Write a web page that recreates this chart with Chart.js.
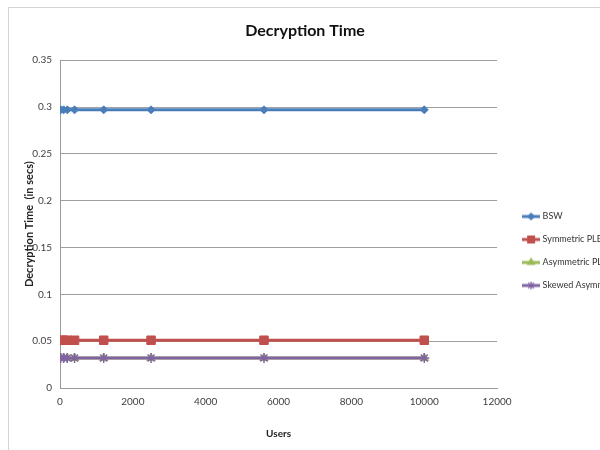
<!DOCTYPE html>
<html>
<head>
<meta charset="utf-8">
<script src="https://cdn.jsdelivr.net/npm/chart.js@4.4.1/dist/chart.umd.min.js"></script>
<style>
  html, body { margin: 0; padding: 0; background: #fff; overflow: hidden; }
  #wrap { position: relative; width: 600px; height: 450px; overflow: hidden; }
  #frame { position: absolute; left: 8px; top: 7px; width: 700px; height: 500px;
           border-left: 1px solid #d4d4d4; border-top: 1px solid #d4d4d4; }
  #chart { position: absolute; left: 0; top: 0; }
</style>
</head>
<body>
<div id="wrap">
  <div id="frame"></div>
  <canvas id="chart" width="610" height="450"></canvas>
</div>
<script>
document.addEventListener('DOMContentLoaded', () => {
  const users = [20, 100, 200, 400, 1200, 2500, 5600, 10000];
  const bswTimes = [0.297, 0.297, 0.297, 0.297, 0.297, 0.297, 0.297, 0.297];
  const symPlbeTimes = [0.051, 0.051, 0.051, 0.051, 0.051, 0.051, 0.051, 0.051];
  const asymPlbeTimes = [0.032, 0.032, 0.032, 0.032, 0.032, 0.032, 0.032, 0.032];
  const skewedTimes = [0.032, 0.032, 0.032, 0.032, 0.032, 0.032, 0.032, 0.032];

  const seriesNames = ['BSW', 'Symmetric PLBE', 'Asymmetric PLBE', 'Skewed Asymm.'];
  const seriesColors = ['#4a7ebb', '#c0504d', '#9bbb59', '#8064a2'];
  const fontFamily = 'Lato, "Liberation Sans", sans-serif';

  const toPoints = values => values.map((v, i) => ({ x: users[i], y: v }));

  const datasets = [
    { label: seriesNames[0], data: toPoints(bswTimes), borderColor: seriesColors[0], backgroundColor: seriesColors[0],
      pointStyle: 'rectRot', pointRadius: 4, order: 4 },
    { label: seriesNames[1], data: toPoints(symPlbeTimes), borderColor: seriesColors[1], backgroundColor: seriesColors[1],
      pointStyle: 'rect', pointRadius: 6, order: 3 },
    { label: seriesNames[2], data: toPoints(asymPlbeTimes), borderColor: seriesColors[2], backgroundColor: seriesColors[2],
      pointStyle: 'triangle', pointRadius: 5, order: 2 },
    { label: seriesNames[3], data: toPoints(skewedTimes), borderColor: seriesColors[3], backgroundColor: seriesColors[3],
      pointStyle: 'star', pointRadius: 5, pointBorderWidth: 1.5, order: 1 }
  ].map(ds => Object.assign({ showLine: true, borderWidth: 3, fill: false, pointBorderWidth: 1 }, ds));

  // legend swatch: short line with the series marker in the middle
  function legendSwatch(ds) {
    const c = document.createElement('canvas');
    c.width = 18; c.height = 12;
    const g = c.getContext('2d');
    g.strokeStyle = ds.borderColor;
    g.fillStyle = ds.backgroundColor;
    g.lineWidth = 3;
    g.beginPath(); g.moveTo(0, 6); g.lineTo(18, 6); g.stroke();
    g.lineWidth = 1.2;
    Chart.helpers.drawPoint(g, { pointStyle: ds.pointStyle, radius: ds.pointRadius * 0.8, borderWidth: 1.2 }, 9, 6);
    return c;
  }

  // Excel-style placement: legend sits just right of the plot and a bit lower down
  const legendPlace = {
    id: 'legendPlace',
    afterLayout(chart) {
      const l = chart.legend;
      const dx = chart.chartArea.right + 13 - l.left;
      const dy = 26;
      l.left += dx; l.right += dx;
      l.top += dy; l.bottom += dy;
    }
  };

  new Chart(document.getElementById('chart').getContext('2d'), {
    type: 'scatter',
    data: { datasets: datasets },
    plugins: [legendPlace],
    options: {
      responsive: false,
      animation: false,
      layout: { padding: 0 },
      scales: {
        x: {
          type: 'linear',
          min: 0,
          max: 12000,
          ticks: { stepSize: 2000, padding: 8, color: '#404040', font: { family: fontFamily, size: 10 },
                   callback: v => String(v) },
          grid: { display: false, drawTicks: false },
          border: { color: '#9a9a9a' },
          title: { display: true, text: 'Users', color: '#222', padding: { top: 0, bottom: 10 },
                   font: { family: fontFamily, size: 10, weight: 'bold' } },
          afterFit: scale => { scale.height = 62; }
        },
        y: {
          min: 0,
          max: 0.35,
          ticks: { stepSize: 0.05, padding: 8, color: '#404040', font: { family: fontFamily, size: 10 },
                   callback: v => String(Math.round(v * 100) / 100) },
          grid: { color: '#a0a0a0', drawTicks: false },
          border: { color: '#9a9a9a' },
          title: { display: true, text: 'Decryption Time  (in secs)', color: '#222', padding: { top: 23, bottom: 0 },
                   font: { family: fontFamily, size: 11, weight: 'bold' } },
          afterFit: scale => { scale.width = 60; }
        }
      },
      plugins: {
        title: {
          display: true,
          text: 'Decryption Time',
          color: '#111',
          padding: { top: 21, bottom: 20 },
          font: { family: fontFamily, size: 16, weight: 'bold' }
        },
        legend: {
          position: 'right',
          labels: {
            usePointStyle: true,
            pointStyleWidth: 14,
            padding: 14,
            color: '#333',
            font: { family: fontFamily, size: 9 },
            generateLabels: chart => chart.data.datasets.map((ds, i) => ({
              text: ds.label,
              datasetIndex: i,
              pointStyle: legendSwatch(ds),
              fillStyle: ds.backgroundColor,
              strokeStyle: ds.borderColor,
              lineWidth: 0,
              hidden: false,
              fontColor: '#333'
            }))
          }
        },
        tooltip: { enabled: false }
      }
    }
  });
});
</script>
</body>
</html>
